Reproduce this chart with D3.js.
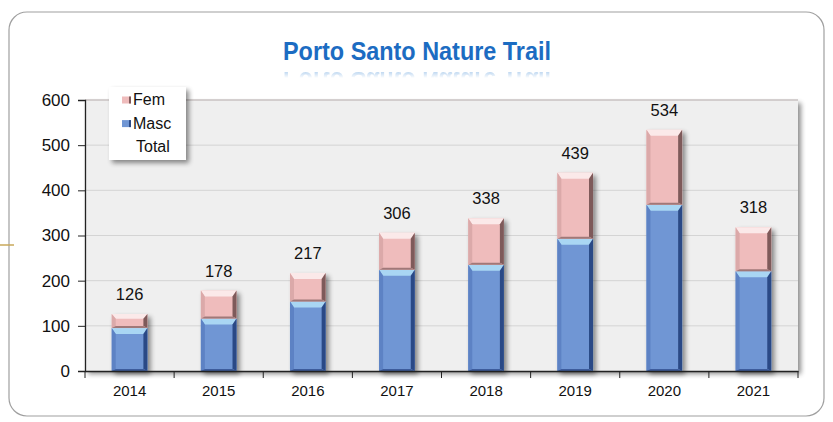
<!DOCTYPE html>
<html><head><meta charset="utf-8">
<script src="https://cdn.jsdelivr.net/npm/d3@7"></script>
<style>body{margin:0;background:#fff;}svg{display:block;font-family:"Liberation Sans",Arial,sans-serif;}</style>
</head><body>
<svg id="c" width="833" height="422"></svg>
<script>
const years = ["2014","2015","2016","2017","2018","2019","2020","2021"];
const masc = [95,116,154,224,235,293,368,221];
const fem  = [31,62,63,82,103,146,166,97];
const total = [126,178,217,306,338,439,534,318];
const yTicks = [0,100,200,300,400,500,600];
const title = "Porto Santo Nature Trail";
const seriesNames = ["Fem","Masc","Total"];

const svg = d3.select("#c");
const defs = svg.append("defs");

const f = defs.append("filter").attr("id","sh").attr("x","-20%").attr("y","-20%").attr("width","150%").attr("height","150%");
f.append("feGaussianBlur").attr("in","SourceAlpha").attr("stdDeviation",2.5);
f.append("feOffset").attr("dx",3).attr("dy",3).attr("result","o");
f.append("feComponentTransfer").append("feFuncA").attr("type","linear").attr("slope",0.45);
const fm = f.append("feMerge"); fm.append("feMergeNode"); fm.append("feMergeNode").attr("in","SourceGraphic");

// outer box
svg.append("rect").attr("x",9).attr("y",12).attr("width",815).attr("height",404).attr("rx",18)
  .attr("fill","#fff").attr("stroke","#a0a0a0").attr("stroke-width",1.2);
svg.append("line").attr("x1",0).attr("x2",14).attr("y1",245).attr("y2",245).attr("stroke","#c9a85a").attr("stroke-width",1.5);

// title + reflection
const tg = defs.append("linearGradient").attr("id","fade").attr("x1",0).attr("y1",0).attr("x2",0).attr("y2",1);
tg.append("stop").attr("offset","0").attr("stop-color","#fff").attr("stop-opacity",0.7);
tg.append("stop").attr("offset","1").attr("stop-color","#fff").attr("stop-opacity",0);
const mask = defs.append("mask").attr("id","rm");
mask.append("rect").attr("x",250).attr("y",66).attr("width",340).attr("height",12).attr("fill","url(#fade)");
svg.append("text").attr("x",417).attr("y",60).attr("text-anchor","middle")
  .attr("font-size",25).attr("font-weight","bold").attr("fill","#1c6cc2")
  .attr("textLength",268).attr("lengthAdjust","spacingAndGlyphs").text(title);
svg.append("g").attr("mask","url(#rm)").append("text").attr("x",417).attr("y",60)
  .attr("transform","translate(0,132) scale(1,-1)").attr("text-anchor","middle")
  .attr("font-size",25).attr("font-weight","bold").attr("fill","#4a8fd6")
  .attr("textLength",268).attr("lengthAdjust","spacingAndGlyphs").text(title);

// scales
const x = d3.scaleBand().domain(years).range([85,798]).paddingInner(0.6).paddingOuter(0.3);
const band = d3.scaleBand().domain(years).range([85,798]);
const y = d3.scaleLinear().domain([0,600]).range([371,100]);

// plot area
svg.append("rect").attr("x",85).attr("y",100).attr("width",713).attr("height",271)
  .attr("fill","#efefef").attr("filter","url(#sh)");
svg.append("g").selectAll("line").data(yTicks.filter(d=>d>0)).join("line")
  .attr("x1",85).attr("x2",798).attr("y1",d=>y(d)).attr("y2",d=>y(d))
  .attr("stroke",d=>d===600?"#c9c2c2":"#d4d4d4").attr("stroke-width",d=>d===600?1.6:1);

// bars
const colors = {
  masc:{mid:"#7096d4", top:"#a9d6f3", left:"#5d82c4", right:"#2c4a86", bot:"#3d5c9c"},
  fem:{mid:"#efbcbc", top:"#fbe9e9", left:"#dba9a9", right:"#7e5a5a", bot:"#a07878"}
};
function seg(g, x0, x1, y0, y1, c){
  const b = Math.min(6, (y1-y0)/3);
  const sb = 4;
  g.append("rect").attr("x",x0).attr("y",y0).attr("width",x1-x0).attr("height",y1-y0).attr("fill",c.mid);
  g.append("polygon").attr("points",[[x0,y0],[x1,y0],[x1-sb,y0+b],[x0+sb,y0+b]].join(" ")).attr("fill",c.top);
  g.append("polygon").attr("points",[[x1,y0],[x1,y1],[x1-sb,y1-2],[x1-sb,y0+b]].join(" ")).attr("fill",c.right);
  g.append("polygon").attr("points",[[x0,y0],[x0+sb,y0+b],[x0+sb,y1-2],[x0,y1]].join(" ")).attr("fill",c.left);
  g.append("polygon").attr("points",[[x0,y1],[x1,y1],[x1-sb,y1-2],[x0+sb,y1-2]].join(" ")).attr("fill",c.bot);
}
const bars = svg.append("g");
years.forEach((yr,i)=>{
  const g = bars.append("g").attr("filter","url(#sh)");
  const x0 = x(yr), x1 = x(yr)+x.bandwidth();
  seg(g, x0, x1, y(masc[i]), y(0), colors.masc);
  seg(g, x0, x1, y(masc[i]+fem[i]), y(masc[i]), colors.fem);
});

// total labels
svg.append("g").selectAll("text").data(years).join("text")
  .attr("x",d=>x(d)+x.bandwidth()/2).attr("y",(d,i)=>y(total[i])-14)
  .attr("text-anchor","middle").attr("font-size",16.5).attr("fill","#111")
  .text((d,i)=>total[i]);

// axes
const ya = svg.append("g").attr("transform","translate(85,0)")
  .call(d3.axisLeft(y).tickValues(yTicks).tickSize(7).tickPadding(8));
ya.select(".domain").attr("stroke","#222").attr("stroke-width",1.3);
ya.selectAll("line").attr("stroke","#222");
ya.selectAll("text").attr("font-size",17).attr("fill","#111").attr("font-family","Liberation Sans, Arial, sans-serif");

const xa = svg.append("g").attr("transform","translate(0,371)")
  .call(d3.axisBottom(band).tickSize(0).tickPadding(14));
xa.select(".domain").attr("stroke","#222").attr("stroke-width",1.3);
xa.selectAll("text").attr("font-size",15).attr("fill","#111").attr("font-family","Liberation Sans, Arial, sans-serif");
svg.append("g").selectAll("line").data(years.concat(["end"])).join("line")
  .attr("x1",(d,i)=>85+i*band.bandwidth()).attr("x2",(d,i)=>85+i*band.bandwidth())
  .attr("y1",371).attr("y2",378).attr("stroke","#222");

// legend
const lg = svg.append("g");
lg.append("rect").attr("x",109).attr("y",87).attr("width",77).attr("height",73).attr("fill","#fff").attr("filter","url(#sh)");
const lc = [colors.fem.mid, colors.masc.mid, null];
const lcd = [colors.fem.right, colors.masc.right, null];
seriesNames.forEach((n,i)=>{
  const yy = 99.5 + i*23.6;
  if(lc[i]){
    lg.append("rect").attr("x",122).attr("y",yy-3).attr("width",9).attr("height",7).attr("fill",lc[i]);
    lg.append("rect").attr("x",129).attr("y",yy-3).attr("width",2).attr("height",7).attr("fill",lcd[i]);
  }
  lg.append("text").attr("x",n==="Total"?136:133).attr("y",yy+5.5).attr("font-size",16).attr("fill","#111").text(n);
});
</script>
</body></html>
